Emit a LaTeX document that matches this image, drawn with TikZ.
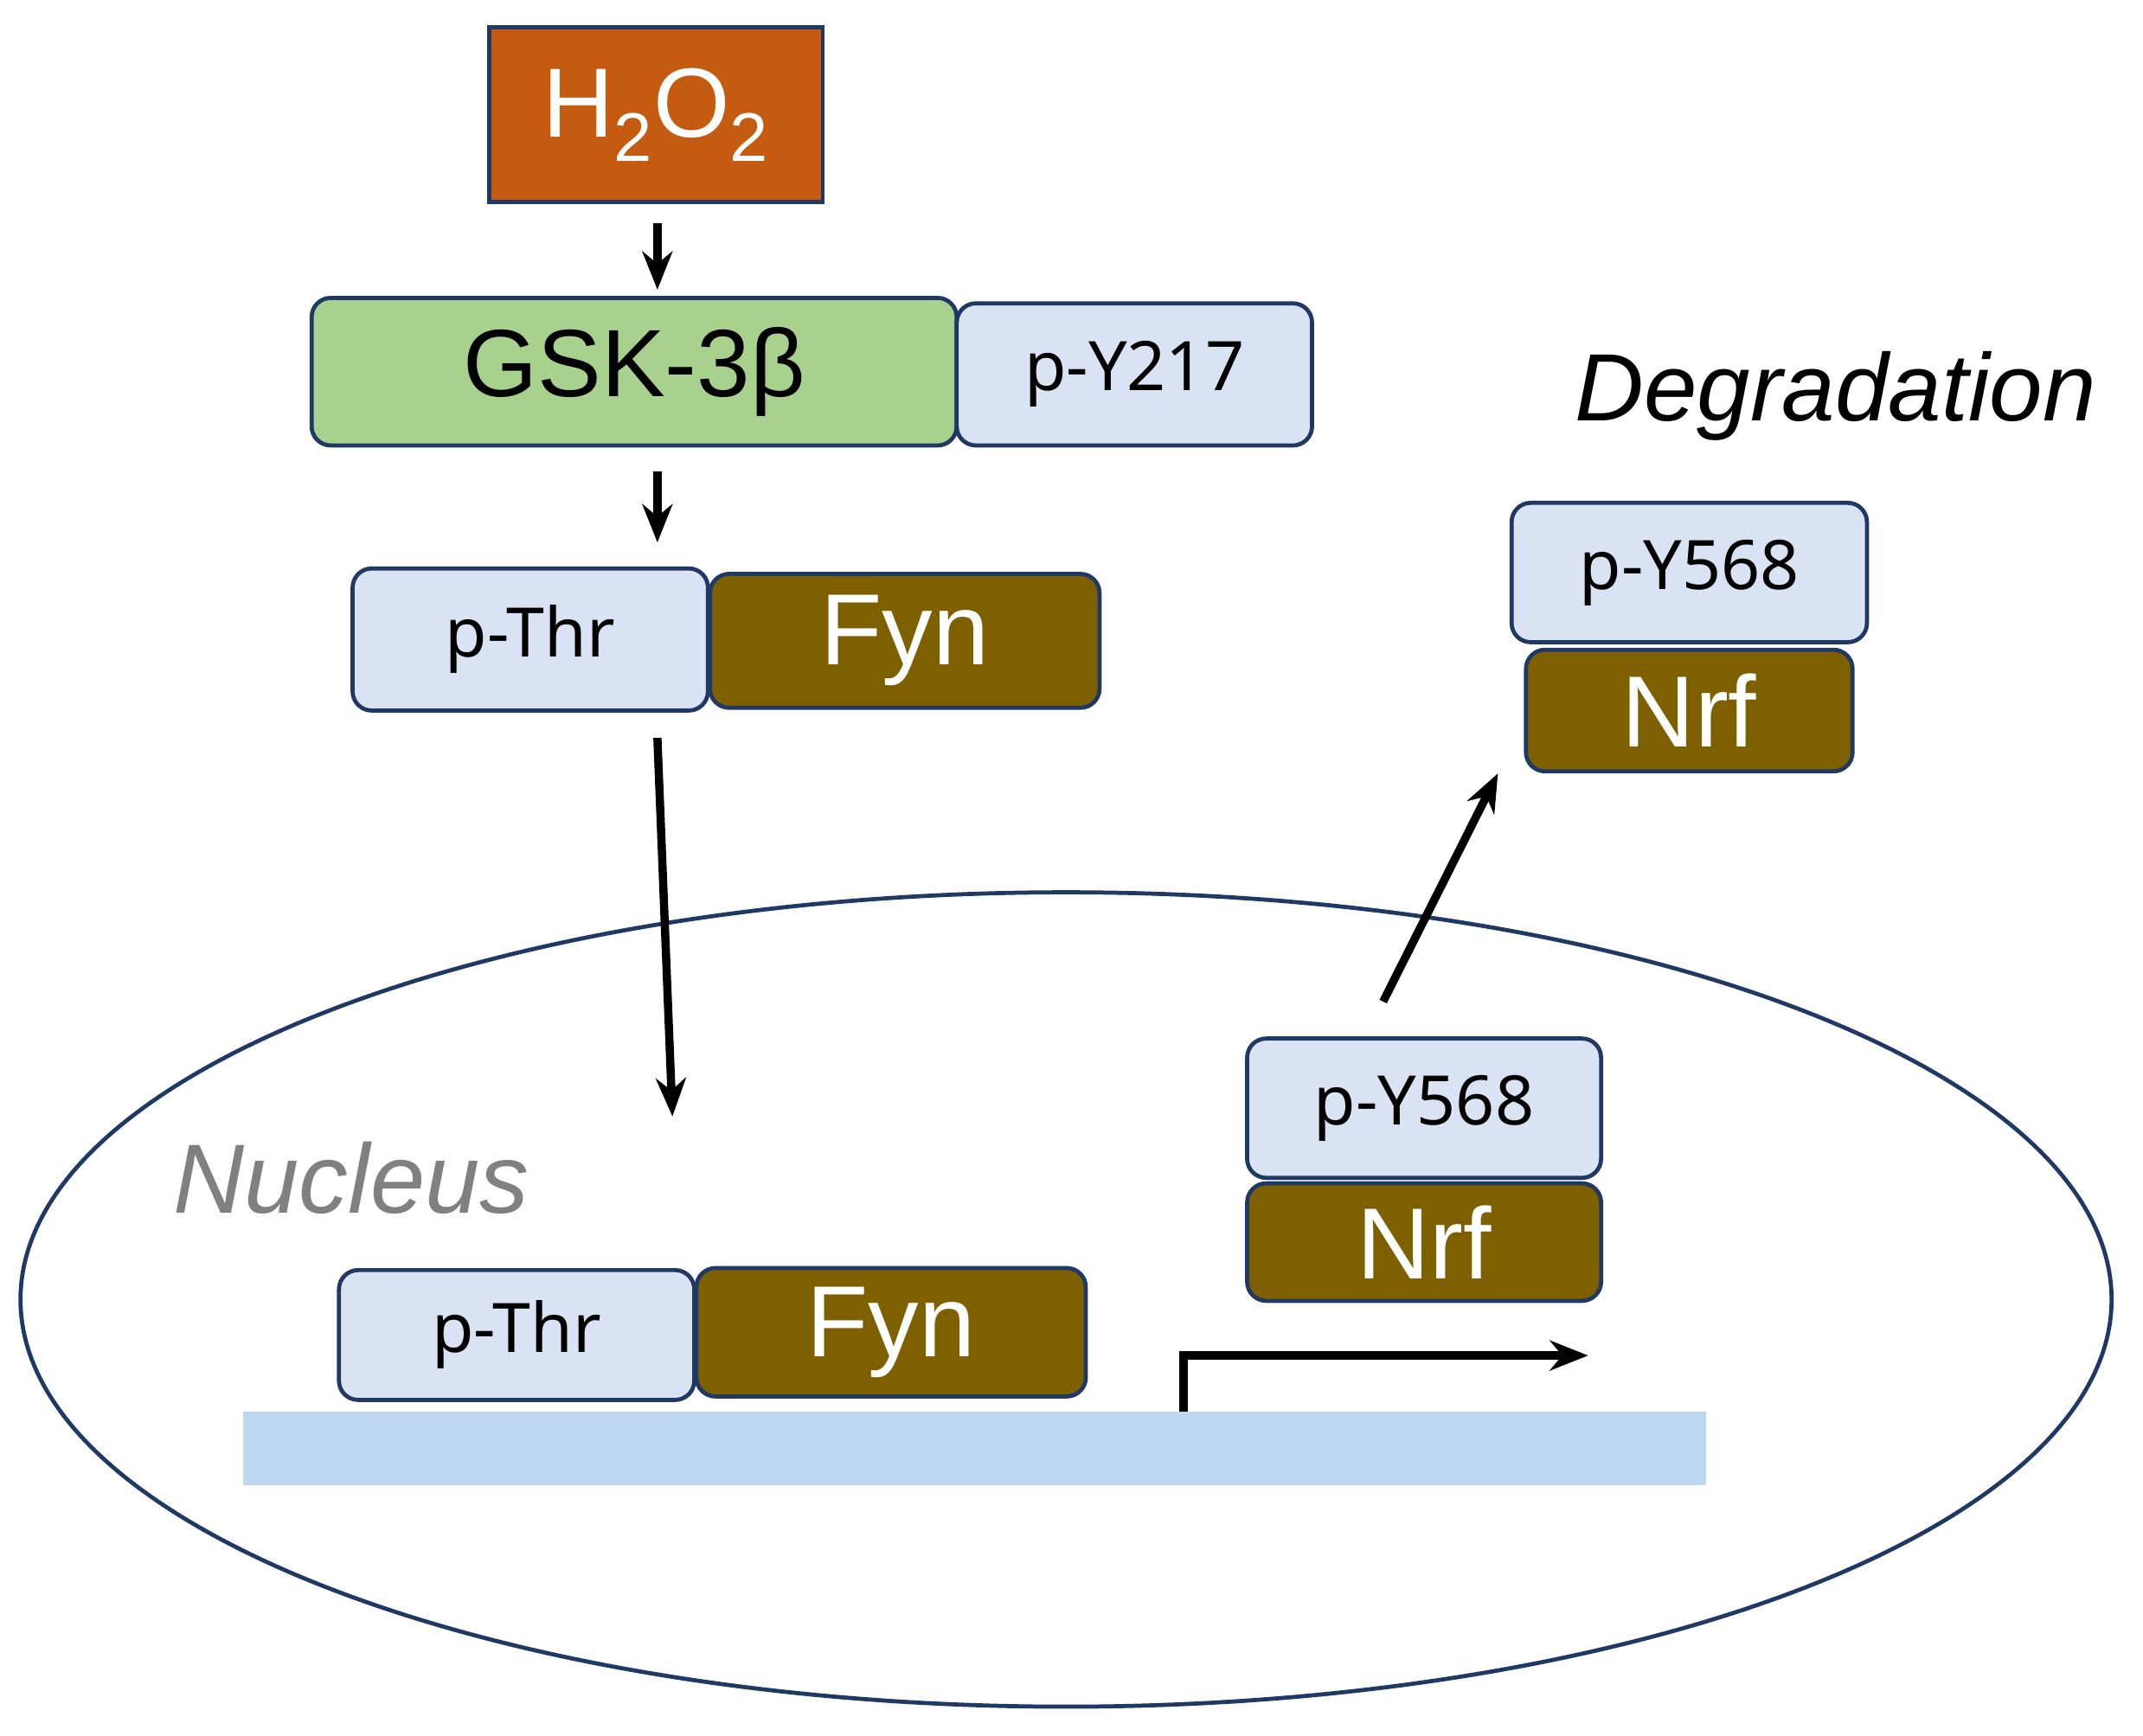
\documentclass[tikz,border=0pt]{standalone}
\usepackage{fontspec}
\setmainfont{Liberation Sans}
\newfontfamily\lblfont{Noto Sans}
\usetikzlibrary{arrows.meta}
\definecolor{bord}{HTML}{1F3864}
\definecolor{lb}{HTML}{DAE3F3}
\definecolor{gr}{HTML}{A9D18E}
\definecolor{br}{HTML}{7F6000}
\definecolor{org}{HTML}{C55A11}
\definecolor{dna}{HTML}{BDD7EE}
\begin{document}
\begin{tikzpicture}[x=0.5pt,y=-0.5pt,
 box/.style={draw=bord,line width=1.5pt,rounded corners=7pt,inner sep=0pt},
 pl/.style={box,fill=lb,font=\lblfont\bfseries\fontsize{25}{28}\selectfont},
 brn/.style={box,fill=br,text=white,font=\fontsize{37}{40}\selectfont},
 arr/.style={-{Stealth[length=14pt,width=11pt]},line width=3pt}]
\useasboundingbox (0,0) rectangle (1568,1270);
\draw[bord,line width=1.5pt] (780,951) ellipse[x radius=765, y radius=298];
\fill[dna] (178,1033) rectangle (1248,1087);
\node[box,rounded corners=0pt,fill=org,text=white,minimum width=122pt,minimum height=64pt,font=\fontsize{36}{40}\selectfont] (h) at (480,84) {H\textsubscript{2}O\textsubscript{2}};
\node[box,fill=gr,minimum width=236pt,minimum height=54pt,font=\fontsize{35}{40}\selectfont] (gsk) at (464,272) {GSK-3β};
\node[pl,minimum width=130pt,minimum height=52pt] (py217) at (830,274) {p-Y217};
\node[pl,minimum width=130pt,minimum height=52pt] (pt1) at (388,468) {p-Thr};
\node[brn,minimum width=142.5pt,minimum height=49pt] (fyn1) at (662,469) {Fyn};
\node[pl,minimum width=130pt,minimum height=47.5pt] (pt2) at (378,977) {p-Thr};
\node[brn,minimum width=142.5pt,minimum height=47pt] (fyn2) at (652,975) {Fyn};
\node[pl,minimum width=129.5pt,minimum height=51pt] (pya) at (1042,811) {p-Y568};
\node[brn,minimum width=129.5pt,minimum height=43pt] (nrfa) at (1042,909) {Nrf};
\node[pl,minimum width=130pt,minimum height=51pt] (pyb) at (1236,419) {p-Y568};
\node[brn,minimum width=119.5pt,minimum height=44.5pt] (nrfb) at (1236,520) {Nrf};
\node[font=\itshape\fontsize{35}{40}\selectfont] (deg) at (1343,290) {Degradation};
\node[font=\itshape\fontsize{36}{40}\selectfont,text=gray] (nuc) at (257,862) {Nucleus};
\coordinate (a1) at (481,163); \coordinate (a2) at (481,212);
\coordinate (b1) at (481,345); \coordinate (b2) at (481,397);
\coordinate (c1) at (481,540); \coordinate (c2) at (492,817);
\coordinate (d1) at (1012,733); \coordinate (d2) at (1096,566);
\coordinate (e1) at (866,1033); \coordinate (e2) at (1162,992);
\draw[arr] (a1) -- (a2);
\draw[arr] (b1) -- (b2);
\draw[arr] (c1) -- (c2);
\draw[arr] (d1) -- (d2);
\draw[arr,-{Stealth[length=14pt,width=11pt]}] (e1) |- (e2);
\end{tikzpicture}
\end{document}
